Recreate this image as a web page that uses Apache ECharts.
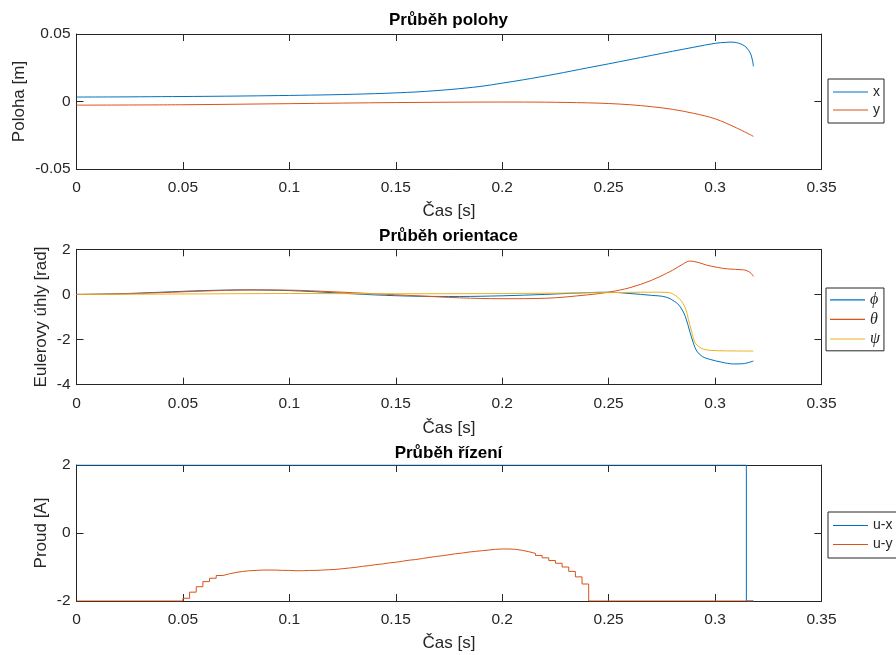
<!DOCTYPE html>
<html>
<head>
<meta charset="utf-8">
<script src="https://cdn.jsdelivr.net/npm/echarts@6/dist/echarts.min.js"></script>
<style>
html, body { margin: 0; padding: 0; background: #fff; }
#chart { width: 896px; height: 655px; }
</style>
</head>
<body>
<div id="chart"></div>
<script>
// ---- position [m] ----
const tX   = [0, 0.02, 0.04, 0.06, 0.08, 0.1, 0.12, 0.14, 0.15, 0.16, 0.175, 0.19, 0.2, 0.21, 0.225, 0.24, 0.25, 0.26, 0.27, 0.28, 0.29, 0.3, 0.305, 0.307, 0.309, 0.311, 0.313, 0.315, 0.3165, 0.3172, 0.3177, 0.318];
const posX = [0.0033, 0.0034, 0.0036, 0.0038, 0.0041, 0.0045, 0.005, 0.0058, 0.0064, 0.0071, 0.0088, 0.0112, 0.0136, 0.0161, 0.0203, 0.0249, 0.0279, 0.031, 0.0341, 0.0372, 0.0402, 0.0431, 0.0438, 0.044, 0.0439, 0.0432, 0.042, 0.0395, 0.036, 0.033, 0.0295, 0.026];
const tY   = [0, 0.05, 0.1, 0.15, 0.2, 0.22, 0.24, 0.25, 0.26, 0.27, 0.28, 0.29, 0.3, 0.31, 0.318];
const posY = [-0.0027, -0.0024, -0.0016, -0.0008, -0.0004, -0.0005, -0.001, -0.0015, -0.0024, -0.0038, -0.0058, -0.0088, -0.0128, -0.0195, -0.0258];

// ---- Euler angles [rad] ----
const tPhi = [0, 0.02, 0.04, 0.06, 0.08, 0.1, 0.12, 0.14, 0.16, 0.18, 0.2, 0.22, 0.24, 0.25, 0.26, 0.27, 0.277, 0.282, 0.284, 0.286, 0.2883, 0.2898, 0.2914, 0.294, 0.2977, 0.303, 0.3086, 0.313, 0.318];
const phi  = [0, 0.03, 0.1, 0.17, 0.2, 0.17, 0.08, -0.02, -0.08, -0.09, -0.06, 0.0, 0.08, 0.1, 0.04, -0.04, -0.12, -0.38, -0.6, -0.97, -1.7, -2.15, -2.51, -2.75, -2.88, -3.0, -3.08, -3.07, -2.95];
const tTheta = [0, 0.02, 0.04, 0.06, 0.08, 0.1, 0.12, 0.14, 0.16, 0.18, 0.2, 0.22, 0.24, 0.25, 0.26, 0.27, 0.2773, 0.28, 0.285, 0.288, 0.292, 0.296, 0.301, 0.306, 0.3133, 0.3155, 0.317, 0.318];
const theta  = [0, 0.02, 0.08, 0.15, 0.2, 0.19, 0.12, 0.03, -0.06, -0.15, -0.19, -0.17, -0.02, 0.1, 0.3, 0.62, 0.94, 1.07, 1.35, 1.48, 1.42, 1.3, 1.2, 1.13, 1.09, 1.03, 0.93, 0.8];
const tPsi = [0, 0.05, 0.1, 0.15, 0.2, 0.25, 0.27, 0.2773, 0.28, 0.2836, 0.286, 0.2875, 0.289, 0.2906, 0.2925, 0.2944, 0.298, 0.305, 0.318];
const psi  = [0, 0.02, 0.04, 0.03, 0.04, 0.08, 0.1, 0.09, 0.03, -0.23, -0.6, -1.11, -1.65, -2.14, -2.32, -2.42, -2.48, -2.5, -2.51];

// ---- control current [A] (zero-order hold) ----
const tUx = [0, 0.3147, 0.3147, 0.318];
const ux  = [2, 2, -2, -2];
const tUy = [0, 0.05, 0.053125, 0.05625, 0.059375, 0.0625, 0.065625, 0.06875, 0.071875, 0.075, 0.078125, 0.08125, 0.084375, 0.0875, 0.090625, 0.09375, 0.096875, 0.1, 0.103125, 0.10625, 0.109375, 0.1125, 0.115625, 0.11875, 0.121875, 0.125, 0.128125, 0.13125, 0.134375, 0.1375, 0.140625, 0.14375, 0.146875, 0.15, 0.153125, 0.15625, 0.159375, 0.1625, 0.165625, 0.16875, 0.171875, 0.175, 0.178125, 0.18125, 0.184375, 0.1875, 0.190625, 0.19375, 0.196875, 0.2, 0.203125, 0.20625, 0.209375, 0.2125, 0.215625, 0.21875, 0.221875, 0.225, 0.228125, 0.23125, 0.234375, 0.2375, 0.240625, 0.318];
const uy  = [-2, -1.92, -1.74, -1.58, -1.43, -1.33, -1.25, -1.2, -1.16, -1.13, -1.11, -1.1, -1.09, -1.09, -1.09, -1.1, -1.1, -1.11, -1.11, -1.1, -1.1, -1.09, -1.08, -1.07, -1.05, -1.03, -1.01, -0.98, -0.96, -0.93, -0.91, -0.88, -0.86, -0.83, -0.8, -0.78, -0.75, -0.72, -0.69, -0.67, -0.64, -0.61, -0.59, -0.56, -0.54, -0.52, -0.5, -0.48, -0.47, -0.47, -0.48, -0.51, -0.55, -0.6, -0.66, -0.73, -0.81, -0.89, -1.0, -1.13, -1.29, -1.5, -2, -2];

// ---- axes ----
const timeMin = 0, timeMax = 0.35, timeStep = 0.05;
const panelTitles = ['Průběh polohy', 'Průběh orientace', 'Průběh řízení'];
const panelYNames = ['Poloha [m]', 'Eulerovy úhly [rad]', 'Proud [A]'];
const panelYRange = [[-0.05, 0.05, 0.05], [-4, 2, 2], [-2, 2, 2]];
const xName = 'Čas [s]';

const C1 = '#0072BD', C2 = '#D95319', C3 = '#EDB120';
const AX = '#262626';
const FONT = '"Liberation Sans", Arial, Helvetica, sans-serif';

const zip = (t, v) => t.map((ti, i) => [ti, v[i]]);

const grids = [
  { left: 76.5, right: 74.5, top: 34, height: 135 },
  { left: 76.5, right: 74.5, top: 249.3, height: 135.4 },
  { left: 76.5, right: 74.5, top: 465, height: 136 }
];
const yNameGaps = [49, 26.5, 26.5];
const xNameGaps = [34, 35, 34];
const titleTops = [12, 228, 445];

const xAxes = [], yAxes = [], titles = [];
grids.forEach((g, i) => {
  const tick = { show: true, inside: true, length: 7, lineStyle: { color: AX, width: 1 } };
  const line = { show: true, onZero: false, lineStyle: { color: AX, width: 1 } };
  xAxes.push({
    type: 'value', gridIndex: i, position: 'bottom', min: timeMin, max: timeMax, interval: timeStep,
    axisLine: line, axisTick: tick, splitLine: { show: false },
    axisLabel: { color: AX, fontSize: 15.5, fontFamily: FONT, margin: 11 },
    name: xName, nameLocation: 'middle', nameGap: xNameGaps[i],
    nameTextStyle: { color: AX, fontSize: 17, fontFamily: FONT }
  });
  xAxes.push({
    type: 'value', gridIndex: i, position: 'top', min: timeMin, max: timeMax, interval: timeStep,
    axisLine: line, axisTick: tick, splitLine: { show: false }, axisLabel: { show: false }
  });
  const [lo, hi, step] = panelYRange[i];
  yAxes.push({
    type: 'value', gridIndex: i, position: 'left', min: lo, max: hi, interval: step,
    axisLine: line, axisTick: tick, splitLine: { show: false },
    axisLabel: { color: AX, fontSize: 15.5, fontFamily: FONT, margin: 6 },
    name: panelYNames[i], nameLocation: 'middle', nameGap: yNameGaps[i], nameMoveOverlap: false,
    nameTextStyle: { color: AX, fontSize: 17, fontFamily: FONT }
  });
  yAxes.push({
    type: 'value', gridIndex: i, position: 'right', min: lo, max: hi, interval: step,
    axisLine: line, axisTick: tick, splitLine: { show: false }, axisLabel: { show: false }
  });
  titles.push({
    text: panelTitles[i], left: 448.5, textAlign: 'center', top: titleTops[i], padding: 0,
    textStyle: { color: '#000', fontSize: 17, fontWeight: 'bold', fontFamily: FONT }
  });
});

function lineSeries(name, color, data, gi, extra) {
  return Object.assign({
    name, type: 'line', data, xAxisIndex: gi * 2, yAxisIndex: gi * 2,
    symbol: 'none', smooth: 0.35,
    lineStyle: { color, width: 1 }, itemStyle: { color },
    emphasis: { disabled: true }, animation: false
  }, extra || {});
}

const series = [
  lineSeries('x', C1, zip(tX, posX), 0),
  lineSeries('y', C2, zip(tY, posY), 0),
  lineSeries('ϕ', C1, zip(tPhi, phi), 1),
  lineSeries('θ', C2, zip(tTheta, theta), 1),
  lineSeries('ψ', C3, zip(tPsi, psi), 1),
  lineSeries('u-x', C1, zip(tUx, ux), 2, { smooth: false }),
  lineSeries('u-y', C2, zip(tUy, uy), 2, { smooth: false, step: 'end' })
];

// legend keys: plain line samples
const legendBase = {
  orient: 'vertical', icon: 'rect', itemWidth: 35, itemHeight: 1.2, itemGap: 0,
  backgroundColor: '#fff', borderColor: AX, borderWidth: 1, borderRadius: 0,
  selectedMode: false
};

const legends = [
  Object.assign({}, legendBase, {
    data: ['x', 'y'], left: 828, top: 79, padding: [4, 4, 4, 5],
    textStyle: { color: AX, fontSize: 14, fontFamily: FONT, lineHeight: 18 }
  }),
  Object.assign({}, legendBase, {
    data: ['ϕ', 'θ', 'ψ'], left: 826, top: 288, padding: [2, 4, 2, 4],
    textStyle: { color: AX, fontSize: 16, fontStyle: 'italic', fontFamily: '"Liberation Serif", "DejaVu Serif", serif', lineHeight: 19.6 }
  }),
  Object.assign({}, legendBase, {
    data: ['u-x', 'u-y'], left: 828, top: 512, padding: [4, 6, 4, 5],
    textStyle: { color: AX, fontSize: 14, fontFamily: FONT, lineHeight: 19 }
  })
];

const chart = echarts.init(document.getElementById('chart'), null, { renderer: 'canvas' });
chart.setOption({
  backgroundColor: '#fff',
  animation: false,
  title: titles,
  grid: grids,
  xAxis: xAxes,
  yAxis: yAxes,
  legend: legends,
  series
});
</script>
</body>
</html>
